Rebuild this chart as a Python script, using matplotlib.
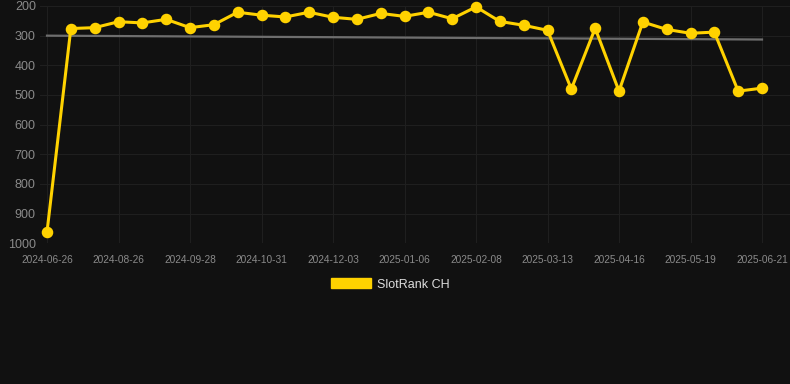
import matplotlib
matplotlib.use('Agg')
import matplotlib.pyplot as plt
from matplotlib.patches import Patch

plt.rcParams['font.family'] = ['Liberation Sans', 'DejaVu Sans']

# dates for each ranking point (only every 3rd is labelled on the axis)
dates = [
    '2024-06-26', '2024-08-04', '2024-08-15', '2024-08-26', '2024-09-06', '2024-09-17',
    '2024-09-28', '2024-10-09', '2024-10-20', '2024-10-31', '2024-11-11', '2024-11-22',
    '2024-12-03', '2024-12-14', '2024-12-25', '2025-01-06', '2025-01-17', '2025-01-28',
    '2025-02-08', '2025-02-19', '2025-03-02', '2025-03-13', '2025-03-24', '2025-04-05',
    '2025-04-16', '2025-04-27', '2025-05-08', '2025-05-19', '2025-05-30', '2025-06-10',
    '2025-06-21',
]
rank_ch = [
    962, 276, 273, 253, 257, 245, 273, 263, 221, 231, 237, 221, 238, 245, 225,
    235, 221, 243, 203, 252, 265, 282, 480, 275, 487, 254, 279, 292, 288, 487, 477,
]
trend_start = 300
trend_end = 313
y_ticks = [200, 300, 400, 500, 600, 700, 800, 900, 1000]

bg = '#111111'
gold = '#FFD200'
grid_col = '#1f1f1f'
label_col = '#8a8a8a'

W, H = 790, 384
fig = plt.figure(figsize=(W / 100, H / 100), dpi=100)
fig.set_facecolor(bg)

left, right, top, bottom = 40, 790, 6, 243.3
ax = fig.add_axes([left / W, 1 - bottom / H, (right - left) / W, (bottom - top) / H])
ax.set_facecolor(bg)

x = list(range(len(dates)))
step = (762 - 47) / (len(dates) - 1)
ax.set_xlim(-(47 - left) / step, len(dates) - 1 + (right - 762) / step)
ax.set_ylim(1000, 200)

ax.plot([x[0], x[-1]], [trend_start, trend_end], color='#6e6e6e', linewidth=1.6, zorder=2)
ax.plot(x, rank_ch, color=gold, linewidth=2.2, marker='o', markersize=7.3,
        markerfacecolor=gold, markeredgecolor=gold, zorder=3, clip_on=False)

ax.set_yticks(y_ticks)
ax.set_yticklabels([str(v) for v in y_ticks])
ax.set_xticks(x[::3])
ax.set_xticklabels(dates[::3])

ax.grid(True, color=grid_col, linewidth=0.8)
ax.set_axisbelow(True)
for s in ax.spines.values():
    s.set_visible(False)
ax.tick_params(axis='y', length=0, pad=3, labelsize=9, labelcolor=label_col)
ax.tick_params(axis='x', length=0, pad=8.5, labelsize=7.3, labelcolor=label_col)

handle = Patch(facecolor=gold, edgecolor=gold)
fig.legend([handle], ['SlotRank CH'], loc='center', bbox_to_anchor=(390 / W, 1 - 284.5 / H),
           frameon=False, fontsize=9, labelcolor='#dddddd',
           handlelength=3.2, handleheight=0.85, handletextpad=0.5)

fig.savefig('out.png', dpi=100, facecolor=bg)
